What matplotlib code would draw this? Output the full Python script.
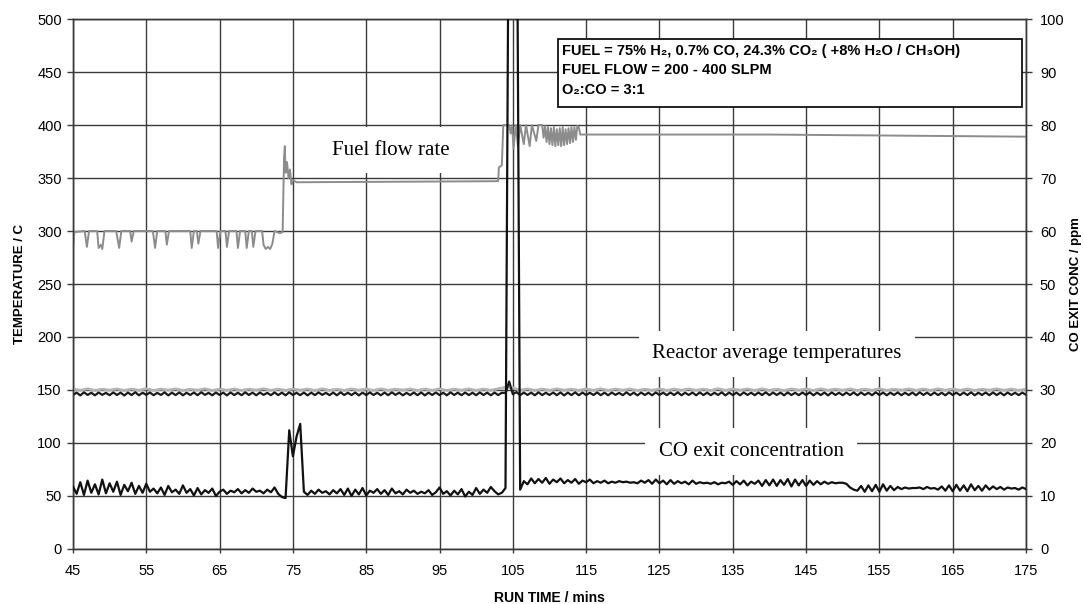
"""
Reactor run: fuel flow, reactor average temperatures and CO exit
concentration against run time (twin y axes).
"""

import numpy as np  # time grid
import matplotlib
matplotlib.use("Agg")
import matplotlib.pyplot as plt  # plotting
from matplotlib.patches import Rectangle  # info box

# ---- DATA ----
# logger samples every 0.5 min for temperatures / CO
run_time = np.arange(45, 175.25, 0.5)
# gray reactor temperature logged every minute
run_time_min = np.arange(45, 176, 1.0)

# fuel flow (SLPM, drawn on the temperature scale), irregular points
fuel_time = [
    45.0, 45.2, 46.6, 46.9, 47.2, 48.3, 48.5, 48.8, 49.0, 49.3,
    50.9, 51.3, 51.6, 52.8, 53.0, 53.3, 55.9, 56.2, 56.5, 57.6,
    57.8, 58.1, 61.0, 61.2, 61.5, 61.9, 62.1, 62.4, 64.6, 64.8,
    65.1, 65.8, 66.0, 66.3, 67.3, 67.5, 67.8, 68.5, 68.7, 69.0,
    69.4, 69.6, 69.9, 70.8, 71.0, 71.3, 71.6, 71.9, 72.2, 72.5,
    73.2, 73.6, 73.8, 73.9, 74.0, 74.2, 74.4, 74.6, 74.8, 75.0,
    75.5, 103.0, 103.1, 103.5, 103.7, 104.5, 104.7, 104.9, 105.1, 105.4,
    105.7, 106.0, 106.5, 106.8, 107.3, 107.6, 108.2, 108.5, 109.0, 109.2,
    109.4, 109.6, 109.8, 110.0, 110.2, 110.4, 110.6, 110.8, 111.0, 111.2,
    111.4, 111.6, 111.8, 112.0, 112.2, 112.4, 112.6, 112.8, 113.0, 113.2,
    113.4, 113.6, 113.8, 114.0, 114.2, 140.0, 175.0,
]
fuel_flow = [
    284, 299, 300, 285, 300, 300, 284, 287, 283, 300,
    300, 284, 300, 300, 290, 300, 300, 284, 300, 300,
    287, 300, 300, 284, 300, 300, 288, 300, 300, 284,
    300, 300, 285, 300, 300, 284, 300, 300, 284, 300,
    300, 285, 300, 300, 287, 283, 285, 283, 288, 300,
    298, 299, 370, 380, 355, 365, 350, 358, 344, 348,
    346, 347, 360, 362, 400, 400, 392, 400, 378, 400,
    380, 400, 382, 400, 380, 400, 385, 400, 400, 388,
    399, 384, 398, 382, 397, 381, 398, 380, 396, 381,
    397, 380, 398, 381, 396, 382, 397, 383, 398, 384,
    398, 386, 399, 398, 391, 391, 389,
]

# reactor average temperatures (C)
temp_dark = [
    145.2, 147.5, 144.9, 147.8, 145.3, 147.4, 145.0, 147.6, 145.4, 147.3,
    145.1, 147.7, 145.3, 147.5, 144.8, 147.6, 145.2, 147.9, 145.0, 147.4,
    145.4, 147.6, 145.1, 147.3, 145.3, 147.8, 144.9, 147.5, 145.2, 147.7,
    145.0, 147.4, 145.3, 147.6, 145.1, 147.9, 145.4, 147.3, 145.0, 147.6,
    145.3, 147.5, 144.9, 147.7, 145.2, 147.4, 145.1, 147.8, 145.3, 147.5,
    145.0, 147.6, 145.4, 147.3, 145.1, 147.7, 145.2, 147.5, 145.0, 147.8,
    145.3, 147.4, 145.1, 147.6, 144.9, 147.5, 145.2, 147.7, 145.4, 147.3,
    145.1, 147.6, 145.0, 147.8, 145.3, 147.4, 145.2, 147.6, 144.9, 147.5,
    145.2, 147.7, 145.3, 147.4, 145.0, 147.6, 145.1, 147.8, 145.4, 147.5,
    145.0, 147.3, 145.2, 147.6, 145.1, 147.7, 144.9, 147.5, 145.3, 147.6,
    145.2, 147.4, 145.0, 147.8, 145.3, 147.5, 145.1, 147.6, 145.2, 147.4,
    145.1, 147.7, 145.3, 147.5, 145.0, 147.6, 145.2, 147.4, 147.0, 158.0,
    146.0, 148.0, 145.1, 147.6, 145.3, 147.5, 145.0, 147.8, 145.2, 147.4,
    145.3, 147.6, 145.1, 147.7, 144.9, 147.5, 145.2, 147.8, 145.0, 147.6,
    145.2, 147.4, 145.3, 147.7, 145.1, 147.5, 145.0, 147.6, 145.4, 147.3,
    145.1, 147.8, 145.2, 147.5, 144.9, 147.6, 145.3, 147.4, 145.0, 147.7,
    145.3, 147.5, 145.1, 147.6, 145.2, 147.8, 145.0, 147.4, 145.3, 147.6,
    145.0, 147.7, 145.2, 147.5, 145.1, 147.4, 145.3, 147.8, 144.9, 147.6,
    145.2, 147.5, 145.0, 147.7, 145.3, 147.4, 145.1, 147.6, 145.2, 147.8,
    145.1, 147.6, 145.3, 147.5, 145.0, 147.7, 145.2, 147.4, 145.1, 147.6,
    145.3, 147.8, 145.0, 147.5, 145.2, 147.6, 144.9, 147.7, 145.3, 147.4,
    145.1, 147.5, 145.2, 147.7, 145.0, 147.6, 145.3, 147.4, 145.1, 147.8,
    145.2, 147.6, 145.0, 147.5, 145.3, 147.7, 145.1, 147.4, 145.2, 147.6,
    145.0, 147.8, 145.3, 147.5, 145.1, 147.6, 145.2, 147.4, 145.0, 147.7,
    145.3, 147.5, 145.1, 147.6, 145.2, 147.8, 145.0, 147.4, 145.3, 147.6,
    145.1, 147.7, 145.2, 147.5, 145.0, 147.6, 145.3, 147.4, 145.2, 147.5,
    145.5,
]
temp_light = [
    150.9, 149.7, 151.1, 149.6, 150.8, 149.8, 151.0, 149.5, 150.9, 149.7,
    151.2, 149.6, 150.8, 149.9, 151.0, 149.6, 150.7, 149.8, 151.1, 149.5,
    150.9, 149.7, 151.0, 149.6, 150.8, 149.9, 151.2, 149.7, 150.9, 149.6,
    151.0, 149.8, 150.9, 149.5, 151.1, 149.7, 150.8, 149.6, 151.0, 149.8,
    150.9, 149.6, 151.1, 149.7, 150.8, 149.9, 151.0, 149.6, 150.9, 149.7,
    151.1, 149.5, 150.8, 149.8, 151.0, 149.6, 150.9, 149.7, 151.2, 152.5,
    152.0, 149.8, 151.0, 149.6, 150.9, 149.7, 151.1, 149.8, 150.8, 149.6,
    151.0, 149.7, 151.2, 149.6, 150.9, 149.8, 151.0, 149.5, 150.8, 149.7,
    151.1, 149.6, 150.9, 149.8, 151.0, 149.7, 150.8, 149.6, 151.2, 149.7,
    150.9, 149.8, 151.0, 149.6, 151.1, 149.7, 150.8, 149.5, 151.0, 149.8,
    150.9, 149.6, 151.1, 149.7, 150.8, 149.8, 151.0, 149.6, 150.9, 149.7,
    151.2, 149.6, 150.8, 149.8, 151.0, 149.7, 150.9, 149.6, 151.1, 149.8,
    150.9, 149.7, 151.0, 149.6, 150.8, 149.8, 151.1, 149.7, 150.9, 149.6,
    150.8,
]

# CO exit concentration (ppm, right axis)
co_ppm = [
    11.8, 10.4, 12.6, 10.2, 12.9, 10.6, 12.2, 10.3, 13.1, 10.5,
    12.4, 10.8, 12.7, 10.2, 12.1, 10.9, 12.5, 10.4, 11.9, 10.6,
    12.3, 10.8, 11.4, 10.5, 11.6, 10.2, 11.9, 10.7, 11.2, 10.4,
    12.0, 10.6, 11.3, 10.1, 11.5, 10.3, 11.1, 10.6, 11.4, 10.0,
    10.8, 11.2, 10.4, 11.0, 10.7, 11.3, 10.5, 11.1, 10.6, 11.4,
    10.8, 11.0, 10.5, 11.2, 10.7, 11.6, 10.4, 9.8, 9.6, 22.4,
    17.5, 21.2, 23.6, 10.8, 10.2, 11.0, 10.4, 11.2, 10.6, 10.9,
    10.3, 11.1, 10.5, 11.3, 10.2, 11.4, 10.0, 11.2, 10.3, 11.5,
    10.1, 11.0, 10.6, 11.3, 10.4, 11.1, 10.2, 11.4, 10.5, 10.9,
    10.3, 11.2, 10.6, 11.0, 10.4, 10.8, 10.5, 11.1, 10.2, 10.7,
    11.6, 10.4, 10.9, 10.1, 11.0, 10.3, 11.3, 9.9, 10.8, 10.2,
    11.5, 10.4, 11.2, 10.6, 11.7, 10.9, 10.3, 10.6, 11.5, 140.0,
    140.0, 140.0, 11.2, 12.8, 12.2, 13.3, 12.4, 13.2, 12.5, 13.4,
    12.3, 13.1, 12.6, 13.3, 12.4, 13.0, 12.5, 13.2, 12.3, 12.9,
    12.6, 13.1, 12.4, 12.8, 12.5, 12.9, 12.4, 12.7, 12.5, 12.8,
    12.6, 12.7, 12.5, 12.6, 12.4, 12.9, 12.5, 13.0, 12.3, 13.1,
    12.4, 12.9, 12.2, 13.0, 12.3, 12.8, 12.4, 12.7, 12.2, 12.9,
    12.3, 12.6, 12.4, 12.5, 12.3, 12.6, 12.2, 12.5, 12.4, 12.7,
    12.1, 12.8, 12.2, 12.9, 12.0, 12.7, 12.3, 12.9, 11.9, 13.0,
    12.0, 13.1, 11.9, 13.0, 12.1, 13.2, 11.8, 13.1, 12.0, 13.0,
    11.9, 12.9, 12.1, 12.8, 12.2, 12.7, 12.3, 12.6, 12.4, 12.5,
    12.5, 12.3, 11.6, 11.2, 11.0, 11.9, 10.8, 12.0, 10.9, 12.1,
    10.8, 12.2, 11.0, 11.9, 11.1, 11.7, 11.3, 11.6, 11.4, 11.5,
    11.5, 11.6, 11.3, 11.7, 11.4, 11.5, 11.2, 11.8, 11.0, 12.0,
    10.9, 12.1, 11.0, 12.0, 10.9, 12.2, 11.1, 11.9, 11.0, 12.0,
    11.2, 11.8, 11.3, 11.7, 11.2, 11.6, 11.4, 11.5, 11.2, 11.6,
    11.3,
]

x_ticks = list(range(45, 176, 10))
temp_ticks = list(range(0, 501, 50))
co_ticks = list(range(0, 101, 10))

info_lines = [
    "FUEL = 75% H\u2082, 0.7% CO, 24.3% CO\u2082 ( +8% H\u2082O / CH\u2083OH)",
    "FUEL FLOW = 200 - 400 SLPM",
    "O\u2082:CO = 3:1",
]

SANS = ["Liberation Sans", "DejaVu Sans"]
SERIF = ["Liberation Serif", "DejaVu Serif"]
GRID = "#3a3a3a"


def label_box(ax, x, y, text):
    """White-backed serif label that blanks out the grid behind it."""
    ax.text(x, y, text, family=SERIF, fontsize=15, ha="center",
            va="center", zorder=3,
            bbox=dict(boxstyle="square,pad=0.65", fc="white", ec="none"))


def make_chart():
    plt.rcParams["font.family"] = SANS
    fig = plt.figure(figsize=(10.84, 6.04), dpi=100)
    ax = fig.add_axes([0.0673, 0.0911, 0.8792, 0.8774])
    ax2 = ax.twinx()

    # grid lines at every tick
    ax.set_axisbelow(True)
    ax.grid(True, color=GRID, lw=1.0)

    # left axis: fuel flow + temperatures
    ax.plot(fuel_time, fuel_flow, color="#8c8c8c", lw=1.4, zorder=4)
    ax.plot(run_time_min, temp_light, color="#b4b4b4", lw=2.0, zorder=4)
    ax.plot(run_time, temp_dark, color="#1a1a1a", lw=1.6, zorder=5)

    # right axis: CO concentration
    ax2.plot(run_time, co_ppm, color="#111111", lw=1.6, zorder=5)

    ax.set_xlim(45, 175)
    ax.set_ylim(0, 500)
    ax2.set_ylim(0, 100)
    ax.set_xticks(x_ticks)
    ax.set_yticks(temp_ticks)
    ax2.set_yticks(co_ticks)

    ax.tick_params(axis="y", direction="out", length=4, width=1,
                   pad=4, labelsize=10.5, color=GRID)
    ax.tick_params(axis="x", direction="out", length=3, width=1,
                   pad=8, labelsize=10.5, color=GRID)
    ax2.tick_params(axis="y", direction="out", length=4, width=1,
                    pad=6, labelsize=10.5, color=GRID)
    for a in (ax, ax2):
        for s in a.spines.values():
            s.set_color(GRID)
            s.set_linewidth(1.0)

    ax.set_xlabel("RUN TIME / mins", fontsize=10, fontweight="bold",
                  labelpad=9)
    ax.set_ylabel("TEMPERATURE / C", fontsize=9.5, fontweight="bold",
                  labelpad=8)
    ax2.set_ylabel("CO EXIT CONC / ppm", fontsize=9.5, fontweight="bold",
                   labelpad=4)

    # curve labels (white boxes cut the grid)
    label_box(ax, 88.3, 376, "Fuel flow rate")
    label_box(ax, 141.0, 184, "Reactor average temperatures")
    label_box(ax, 137.5, 92, "CO exit concentration")

    # conditions box, top right
    ax2.add_patch(Rectangle((0.509, 0.834), 0.487, 0.128,
                            transform=ax2.transAxes, fc="white",
                            ec="#111111", lw=1.3, zorder=6))
    for k, line in enumerate(info_lines):
        ax2.text(0.513, 0.940 - 0.037 * k, line, transform=ax2.transAxes,
                 fontsize=10.5, fontweight="bold", ha="left", va="center",
                 family=SANS, zorder=7)

    fig.savefig("out.png", dpi=100)


if __name__ == "__main__":
    make_chart()
